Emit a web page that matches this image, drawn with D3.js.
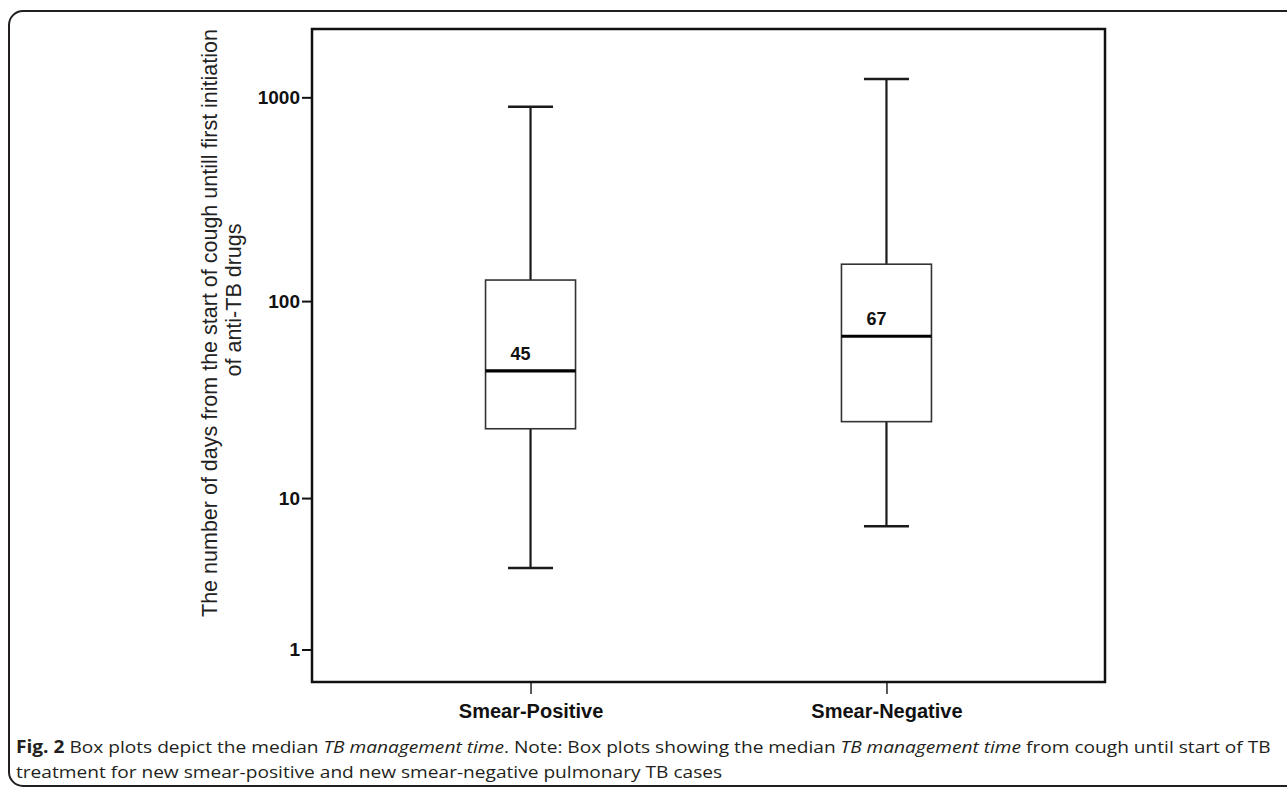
<!DOCTYPE html>
<html>
<head>
<meta charset="utf-8">
<script src="https://cdn.jsdelivr.net/npm/d3@7"></script>
<style>
  body { margin: 0; background: #fff; }
  svg { display: block; }
</style>
</head>
<body>
<script>
// box plot values, days
var categories = ["Smear-Positive", "Smear-Negative"]
var minValues = [4, 7]
var q1Values = [23, 25]
var medianValues = [45, 67]
var q3Values = [127, 152]
var maxValues = [900, 1230]
var medianLabels = ["45", "67"]
var yTicks = [1, 10, 100, 1000]
var yTitle = ["The number of days from the start of cough untill first initiation", "of  anti-TB drugs"]

var width = 1287, height = 793
var plot = {left: 312, top: 29, right: 1105, bottom: 682}

var svg = d3.select("body").append("svg")
  .attr("width", width)
  .attr("height", height)

// outer figure frame (rounded, runs off the right edge)
svg.append("rect")
  .attr("x", 9).attr("y", 11)
  .attr("width", 1292).attr("height", 775)
  .attr("rx", 14)
  .attr("fill", "none")
  .attr("stroke", "#231f20")
  .attr("stroke-width", 2)

var x = d3.scalePoint()
  .domain(categories)
  .range([plot.left, plot.right])
  .padding(0.614)

// SPSS "safe log" axis: log(1 + x)
var y = d3.scaleSymlog()
  .constant(1)
  .domain([0.3875, 2159])
  .range([plot.bottom, plot.top])

var boxes = categories.map(function(c, i) {
  return {name: c, min: minValues[i], q1: q1Values[i], median: medianValues[i],
    q3: q3Values[i], max: maxValues[i], label: medianLabels[i]}
})

var boxWidth = 90, capWidth = 45

// y axis
var yAxis = svg.append("g")
  .attr("transform", "translate(" + plot.left + ",0)")
  .call(d3.axisLeft(y).tickValues(yTicks).tickSize(10).tickPadding(2).tickFormat(d3.format("d")))
yAxis.select(".domain").remove()
yAxis.selectAll(".tick line").attr("stroke", "#111").attr("stroke-width", 2)
yAxis.selectAll(".tick text")
  .attr("fill", "#111")
  .style("font-family", "'Liberation Sans', Arial, sans-serif")
  .style("font-weight", "bold")
  .style("font-size", "19px")

// x axis
var xAxis = svg.append("g")
  .attr("transform", "translate(0," + plot.bottom + ")")
  .call(d3.axisBottom(x).tickSize(12))
xAxis.select(".domain").remove()
xAxis.selectAll(".tick line").attr("stroke", "#222").attr("stroke-width", 1.5)
xAxis.selectAll(".tick text")
  .attr("y", 36).attr("dy", 0)
  .attr("fill", "#111")
  .style("font-family", "'Liberation Sans', Arial, sans-serif")
  .style("font-weight", "bold")
  .style("font-size", "20px")

// plot frame
svg.append("rect")
  .attr("x", plot.left).attr("y", plot.top)
  .attr("width", plot.right - plot.left)
  .attr("height", plot.bottom - plot.top)
  .attr("fill", "none")
  .attr("stroke", "#111")
  .attr("stroke-width", 2.5)

var box = svg.selectAll("g.box")
  .data(boxes)
  .enter().append("g")
  .attr("class", "box")

// whiskers
box.append("line")
  .attr("x1", d => x(d.name)).attr("x2", d => x(d.name))
  .attr("y1", d => y(d.max)).attr("y2", d => y(d.q3))
  .attr("stroke", "#1a1a1a").attr("stroke-width", 2.2)
box.append("line")
  .attr("x1", d => x(d.name)).attr("x2", d => x(d.name))
  .attr("y1", d => y(d.q1)).attr("y2", d => y(d.min))
  .attr("stroke", "#1a1a1a").attr("stroke-width", 2.2)

// caps
box.selectAll("line.cap")
  .data(d => [{name: d.name, v: d.max}, {name: d.name, v: d.min}])
  .enter().append("line")
  .attr("class", "cap")
  .attr("x1", d => x(d.name) - capWidth / 2).attr("x2", d => x(d.name) + capWidth / 2)
  .attr("y1", d => y(d.v)).attr("y2", d => y(d.v))
  .attr("stroke", "#1a1a1a").attr("stroke-width", 2.5)

box.append("rect")
  .attr("x", d => x(d.name) - boxWidth / 2)
  .attr("y", d => y(d.q3))
  .attr("width", boxWidth)
  .attr("height", d => y(d.q1) - y(d.q3))
  .attr("fill", "#fff")
  .attr("stroke", "#333")
  .attr("stroke-width", 1.6)

box.append("line")
  .attr("x1", d => x(d.name) - boxWidth / 2).attr("x2", d => x(d.name) + boxWidth / 2)
  .attr("y1", d => y(d.median)).attr("y2", d => y(d.median))
  .attr("stroke", "#000").attr("stroke-width", 3.2)

box.append("text")
  .attr("x", d => x(d.name) - 10)
  .attr("y", d => y(d.median) - 11)
  .attr("text-anchor", "middle")
  .attr("fill", "#111")
  .style("font-family", "'Liberation Sans', Arial, sans-serif")
  .style("font-weight", "bold")
  .style("font-size", "18px")
  .text(d => d.label)

// y axis title, two rotated lines (second line sits a bit higher)
var titlePos = [[217, 323], [241, 300]]
svg.selectAll("text.ytitle")
  .data(yTitle)
  .enter().append("text")
  .attr("class", "ytitle")
  .attr("transform", (d, i) => "translate(" + titlePos[i][0] + "," + titlePos[i][1] + ") rotate(-90)")
  .attr("text-anchor", "middle")
  .attr("fill", "#222")
  .style("font-family", "'Liberation Sans', Arial, sans-serif")
  .style("font-size", "21.5px")
  .text(d => d)

// caption
var caption = svg.append("g")
  .attr("fill", "#231f20")
  .style("font-family", "'Open Sans', sans-serif")
  .style("font-size", "17px")

var line1 = caption.append("text").attr("x", 16).attr("y", 753)
line1.append("tspan").style("font-weight", "bold").text("Fig. 2")
line1.append("tspan").text(" Box plots depict the median ")
line1.append("tspan").style("font-style", "italic").text("TB management time")
line1.append("tspan").text(". Note: Box plots showing the median ")
line1.append("tspan").style("font-style", "italic").text("TB management time")
line1.append("tspan").text(" from cough until start of TB")

var line2 = caption.append("text").attr("x", 16).attr("y", 778)
  .text("treatment for new smear-positive and new smear-negative pulmonary TB cases")

// squeeze caption to the figure width, like the condensed journal font
var k = 1256 / line1.node().getComputedTextLength()
caption.selectAll("text")
  .attr("transform", "translate(16,0) scale(" + k + ",1) translate(-16,0)")
</script>
</body>
</html>
